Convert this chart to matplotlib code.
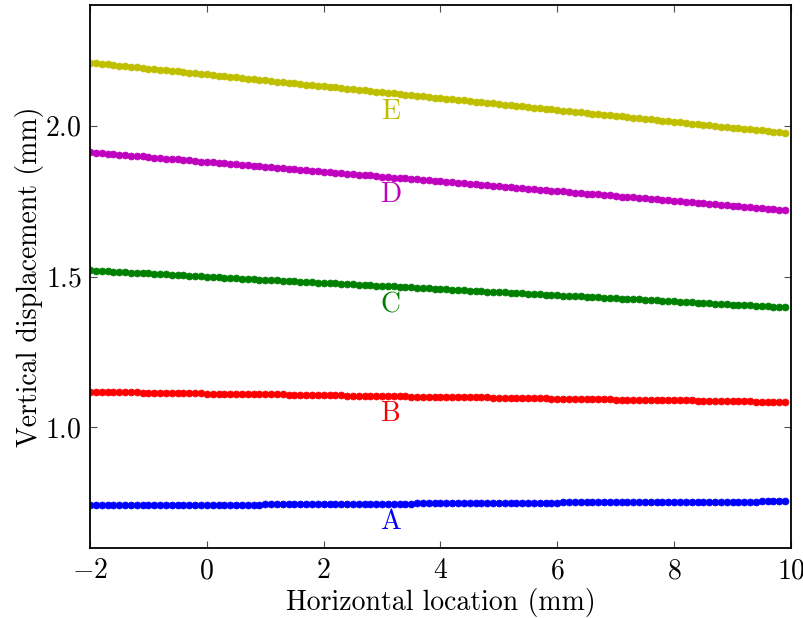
import matplotlib
matplotlib.use("Agg")
import matplotlib.pyplot as plt
import numpy as np

plt.rcParams["font.family"] = "serif"
plt.rcParams["font.serif"] = ["cmr10"]
plt.rcParams["mathtext.fontset"] = "cm"
plt.rcParams["axes.formatter.use_mathtext"] = True
plt.rcParams["axes.unicode_minus"] = True

# horizontal sample positions (mm), one dot every 0.1 mm
x_mm = np.round(np.arange(120) * 0.1 - 2.0, 1)

disp_e = [
    2.209, 2.207, 2.205, 2.203, 2.201, 2.199, 2.197, 2.195, 2.193, 2.191,
    2.189, 2.187, 2.185, 2.184, 2.182, 2.180, 2.178, 2.176, 2.174, 2.172,
    2.170, 2.168, 2.166, 2.164, 2.162, 2.160, 2.158, 2.156, 2.154, 2.152,
    2.150, 2.148, 2.146, 2.144, 2.142, 2.140, 2.138, 2.136, 2.135, 2.133,
    2.131, 2.129, 2.127, 2.125, 2.123, 2.121, 2.119, 2.117, 2.115, 2.113,
    2.111, 2.109, 2.107, 2.105, 2.103, 2.101, 2.099, 2.097, 2.095, 2.093,
    2.091, 2.089, 2.087, 2.086, 2.084, 2.082, 2.080, 2.078, 2.076, 2.074,
    2.072, 2.070, 2.068, 2.066, 2.064, 2.062, 2.060, 2.058, 2.056, 2.054,
    2.052, 2.050, 2.048, 2.046, 2.044, 2.042, 2.040, 2.038, 2.037, 2.035,
    2.033, 2.031, 2.029, 2.027, 2.025, 2.023, 2.021, 2.019, 2.017, 2.015,
    2.013, 2.011, 2.009, 2.007, 2.005, 2.003, 2.001, 1.999, 1.997, 1.995,
    1.993, 1.991, 1.989, 1.988, 1.986, 1.984, 1.982, 1.980, 1.978, 1.976,
]
disp_d = [
    1.912, 1.910, 1.909, 1.907, 1.906, 1.904, 1.902, 1.901, 1.899, 1.898,
    1.896, 1.894, 1.893, 1.891, 1.889, 1.888, 1.886, 1.885, 1.883, 1.881,
    1.880, 1.878, 1.877, 1.875, 1.873, 1.872, 1.870, 1.869, 1.867, 1.865,
    1.864, 1.862, 1.860, 1.859, 1.857, 1.856, 1.854, 1.852, 1.851, 1.849,
    1.848, 1.846, 1.844, 1.843, 1.841, 1.840, 1.838, 1.836, 1.835, 1.833,
    1.831, 1.830, 1.828, 1.827, 1.825, 1.823, 1.822, 1.820, 1.819, 1.817,
    1.815, 1.814, 1.812, 1.811, 1.809, 1.807, 1.806, 1.804, 1.803, 1.801,
    1.799, 1.798, 1.796, 1.794, 1.793, 1.791, 1.790, 1.788, 1.786, 1.785,
    1.783, 1.782, 1.780, 1.778, 1.777, 1.775, 1.774, 1.772, 1.770, 1.769,
    1.767, 1.765, 1.764, 1.762, 1.761, 1.759, 1.757, 1.756, 1.754, 1.753,
    1.751, 1.749, 1.748, 1.746, 1.745, 1.743, 1.741, 1.740, 1.738, 1.737,
    1.735, 1.733, 1.732, 1.730, 1.728, 1.727, 1.725, 1.724, 1.722, 1.720,
]
disp_c = [
    1.520, 1.519, 1.518, 1.517, 1.516, 1.515, 1.514, 1.513, 1.512, 1.511,
    1.510, 1.509, 1.508, 1.507, 1.506, 1.505, 1.504, 1.503, 1.502, 1.501,
    1.500, 1.498, 1.497, 1.496, 1.495, 1.494, 1.493, 1.492, 1.491, 1.490,
    1.489, 1.488, 1.487, 1.486, 1.485, 1.484, 1.483, 1.482, 1.481, 1.480,
    1.479, 1.478, 1.477, 1.476, 1.475, 1.474, 1.473, 1.472, 1.471, 1.470,
    1.469, 1.468, 1.467, 1.466, 1.465, 1.464, 1.463, 1.462, 1.461, 1.460,
    1.458, 1.457, 1.456, 1.455, 1.454, 1.453, 1.452, 1.451, 1.450, 1.449,
    1.448, 1.447, 1.446, 1.445, 1.444, 1.443, 1.442, 1.441, 1.440, 1.439,
    1.438, 1.437, 1.436, 1.435, 1.434, 1.433, 1.432, 1.431, 1.430, 1.429,
    1.428, 1.427, 1.426, 1.425, 1.424, 1.423, 1.422, 1.421, 1.420, 1.419,
    1.418, 1.416, 1.415, 1.414, 1.413, 1.412, 1.411, 1.410, 1.409, 1.408,
    1.407, 1.406, 1.405, 1.404, 1.403, 1.402, 1.401, 1.400, 1.399, 1.398,
]
disp_b = [
    1.118, 1.118, 1.117, 1.117, 1.117, 1.117, 1.116, 1.116, 1.116, 1.115,
    1.115, 1.115, 1.115, 1.114, 1.114, 1.114, 1.113, 1.113, 1.113, 1.113,
    1.112, 1.112, 1.112, 1.111, 1.111, 1.111, 1.111, 1.110, 1.110, 1.110,
    1.109, 1.109, 1.109, 1.109, 1.108, 1.108, 1.108, 1.107, 1.107, 1.107,
    1.107, 1.106, 1.106, 1.106, 1.105, 1.105, 1.105, 1.105, 1.104, 1.104,
    1.104, 1.103, 1.103, 1.103, 1.103, 1.102, 1.102, 1.102, 1.101, 1.101,
    1.101, 1.101, 1.100, 1.100, 1.100, 1.099, 1.099, 1.099, 1.099, 1.098,
    1.098, 1.098, 1.097, 1.097, 1.097, 1.097, 1.096, 1.096, 1.096, 1.095,
    1.095, 1.095, 1.095, 1.094, 1.094, 1.094, 1.093, 1.093, 1.093, 1.093,
    1.092, 1.092, 1.092, 1.091, 1.091, 1.091, 1.091, 1.090, 1.090, 1.090,
    1.089, 1.089, 1.089, 1.089, 1.088, 1.088, 1.088, 1.087, 1.087, 1.087,
    1.087, 1.086, 1.086, 1.086, 1.085, 1.085, 1.085, 1.085, 1.084, 1.084,
]
disp_a = [
    0.741, 0.741, 0.741, 0.741, 0.741, 0.742, 0.742, 0.742, 0.742, 0.742,
    0.742, 0.742, 0.742, 0.743, 0.743, 0.743, 0.743, 0.743, 0.743, 0.743,
    0.743, 0.743, 0.744, 0.744, 0.744, 0.744, 0.744, 0.744, 0.744, 0.744,
    0.745, 0.745, 0.745, 0.745, 0.745, 0.745, 0.745, 0.745, 0.745, 0.746,
    0.746, 0.746, 0.746, 0.746, 0.746, 0.746, 0.746, 0.747, 0.747, 0.747,
    0.747, 0.747, 0.747, 0.747, 0.747, 0.747, 0.748, 0.748, 0.748, 0.748,
    0.748, 0.748, 0.748, 0.748, 0.749, 0.749, 0.749, 0.749, 0.749, 0.749,
    0.749, 0.749, 0.749, 0.750, 0.750, 0.750, 0.750, 0.750, 0.750, 0.750,
    0.750, 0.751, 0.751, 0.751, 0.751, 0.751, 0.751, 0.751, 0.751, 0.751,
    0.752, 0.752, 0.752, 0.752, 0.752, 0.752, 0.752, 0.752, 0.753, 0.753,
    0.753, 0.753, 0.753, 0.753, 0.753, 0.753, 0.753, 0.754, 0.754, 0.754,
    0.754, 0.754, 0.754, 0.754, 0.754, 0.755, 0.755, 0.755, 0.755, 0.755,
]

series_names = ["A", "B", "C", "D", "E"]
series_colors = ["b", "r", "g", "m", "y"]
series_values = [disp_a, disp_b, disp_c, disp_d, disp_e]
# where each curve's letter sits
label_x = [3.15, 3.15, 3.15, 3.15, 3.15]
label_y = [0.687, 1.044, 1.405, 1.772, 2.046]

fig = plt.figure(figsize=(8.04, 6.18), dpi=100)
ax = fig.add_axes([90 / 804, 1 - 548 / 618, 701 / 804, 543 / 618])

for name, color, vals, lx, ly in zip(series_names, series_colors, series_values, label_x, label_y):
    ax.plot(x_mm, vals, linestyle="none", marker="o", markersize=5,
            color=color, markeredgecolor=color, markeredgewidth=0.5)
    ax.text(lx, ly, name, color=color, fontsize=20, ha="center", va="center")

ax.set_xlim(-2, 10)
ax.set_ylim(0.6, 2.4)
ax.set_xticks([-2, 0, 2, 4, 6, 8, 10])
ax.set_yticks([1.0, 1.5, 2.0])
ax.tick_params(direction="in", top=True, right=True, length=5, width=0.8,
               labelsize=20, pad=7, color="0.3")
ax.tick_params(axis="y", pad=6)
for sp in ax.spines.values():
    sp.set_linewidth(1.3)

ax.set_xlabel("Horizontal location (mm)", fontsize=20, labelpad=3)
ax.set_ylabel("Vertical displacement (mm)", fontsize=20, labelpad=1)

fig.savefig("out.png", dpi=100, facecolor="white")
